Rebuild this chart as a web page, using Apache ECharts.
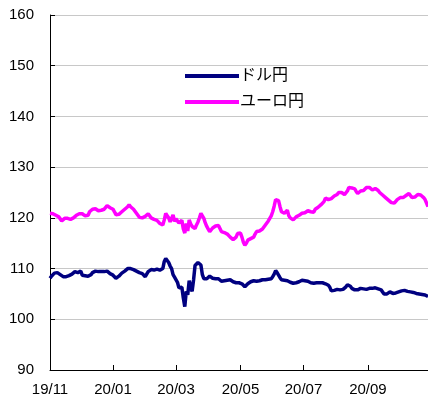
<!DOCTYPE html>
<html>
<head>
<meta charset="utf-8">
<script src="https://cdn.jsdelivr.net/npm/echarts@6/dist/echarts.min.js"></script>
<style>
  html, body { margin: 0; padding: 0; background: #fff; }
  #main { width: 428px; height: 401px; }
</style>
</head>
<body>
<div id="main"></div>
<script>
// 期間: 2019/11/01 〜 2020/10/28 の平日
var startDate = '2019-11-01';
var endDate = '2020-10-28';
var tickLabels = ['19/11', '20/01', '20/03', '20/05', '20/07', '20/09'];
var seriesNames = ['ドル円', 'ユーロ円'];

// ドル円 (月ごと)
var usdJpy = [].concat(
  [108.1, 108.5, 108.8, 109.1, 109.0, 109.2, 109.0, 108.8, 108.5, 108.4, 108.6, 108.4, 108.5, 108.6, 108.7, 108.9, 109.1, 109.4, 109.3, 109.2, 109.3],
  [109.5, 108.7, 108.6, 108.6, 108.5, 108.5, 108.6, 108.8, 109.2, 109.3, 109.5, 109.4, 109.4, 109.4, 109.4, 109.5, 109.4, 109.6, 109.5, 109.4, 109.0, 108.8],
  [108.7, 108.5, 108.1, 108.3, 108.5, 108.8, 109.1, 109.3, 109.5, 109.8, 110.0, 110.1, 110.0, 110.0, 109.8, 109.7, 109.5, 109.4, 109.2, 109.1, 109.0, 108.7, 108.4],
  [108.6, 109.4, 109.6, 109.8, 109.8, 109.7, 109.8, 109.9, 109.8, 109.7, 109.8, 110.0, 111.4, 112.0, 111.6, 111.2, 110.5, 110.0, 108.8, 108.3],
  [108.0, 107.3, 106.2, 105.9, 106.3, 104.2, 102.5, 105.5, 104.8, 107.6, 106.5, 105.5, 107.8, 110.6, 110.8, 111.2, 111.1, 110.7, 108.8, 108.0, 108.1, 108.0],
  [108.2, 108.5, 108.4, 108.1, 107.8, 108.0, 108.1, 108.0, 107.7, 107.5, 107.4, 107.6, 107.8, 107.7, 107.6, 107.8, 107.5, 107.4, 107.3, 107.2, 107.0, 107.2],
  [107.3, 107.0, 106.7, 106.4, 106.6, 107.0, 107.3, 107.4, 107.3, 107.6, 107.7, 107.5, 107.4, 107.6, 107.7, 107.8, 107.7, 107.8, 107.7, 107.9, 108.1],
  [108.0, 108.4, 108.9, 109.6, 109.2, 108.7, 108.2, 107.8, 107.6, 107.7, 107.8, 107.6, 107.4, 107.3, 107.2, 107.1, 107.0, 107.2, 107.3, 107.4, 107.5, 107.7],
  [107.8, 107.6, 107.4, 107.5, 107.3, 107.2, 107.2, 107.1, 107.1, 107.2, 107.3, 107.2, 107.1, 107.2, 107.1, 107.0, 106.9, 106.7, 106.3, 105.6, 105.4, 105.7, 105.8],
  [105.9, 105.7, 105.8, 105.7, 105.9, 106.1, 106.4, 106.8, 106.7, 106.5, 106.1, 106.0, 105.8, 105.9, 105.8, 106.0, 106.1, 106.2, 106.0, 106.2, 105.9],
  [106.0, 106.1, 106.2, 106.1, 106.1, 106.2, 106.1, 106.0, 105.9, 105.8, 105.5, 105.0, 104.8, 105.0, 105.2, 105.4, 105.3, 105.1, 105.1, 105.2, 105.4, 105.4],
  [105.5, 105.6, 105.8, 105.7, 105.6, 105.5, 105.4, 105.4, 105.3, 105.3, 105.2, 105.1, 105.1, 105.0, 105.1, 104.9, 104.8, 104.8, 104.6, 104.5]
);

// ユーロ円 (月ごと)
var eurJpy = [].concat(
  [120.9, 121.0, 120.8, 120.9, 120.5, 120.3, 120.2, 119.8, 119.4, 119.6, 119.9, 120.0, 119.9, 119.8, 119.7, 119.8, 120.0, 120.2, 120.5, 120.6, 120.8],
  [121.0, 120.8, 120.6, 120.4, 120.2, 120.5, 121.2, 121.4, 121.7, 121.9, 121.8, 121.6, 121.4, 121.3, 121.5, 121.4, 121.7, 122.0, 122.4, 122.3, 122.0, 121.8],
  [121.7, 121.2, 120.6, 120.8, 120.7, 120.9, 121.2, 121.5, 121.7, 122.0, 122.2, 122.6, 122.2, 121.9, 121.7, 121.3, 120.9, 120.5, 120.1, 120.2, 120.0, 120.2, 120.3],
  [120.6, 120.8, 120.4, 120.0, 119.9, 119.7, 119.8, 119.5, 119.2, 118.9, 119.0, 118.6, 119.6, 120.9, 120.4, 120.0, 119.2, 119.9, 120.6, 119.3],
  [119.8, 120.0, 119.0, 119.3, 119.5, 117.8, 117.0, 118.9, 117.4, 119.6, 118.8, 118.3, 118.1, 117.9, 118.6, 119.2, 120.0, 120.9, 120.6, 119.9, 119.0, 118.3],
  [117.8, 117.3, 117.4, 118.0, 118.3, 118.4, 118.6, 118.5, 117.9, 117.3, 117.6, 117.1, 117.0, 116.8, 116.6, 116.2, 116.0, 115.7, 115.8, 116.2, 116.9, 116.6],
  [117.0, 116.2, 115.2, 114.6, 115.0, 115.6, 115.7, 115.9, 116.0, 116.2, 116.8, 117.3, 117.6, 117.4, 117.3, 117.8, 118.1, 118.6, 118.9, 119.4, 119.9],
  [120.4, 121.2, 122.3, 123.6, 123.7, 123.4, 122.2, 121.2, 121.4, 120.9, 121.2, 121.5, 120.4, 120.0, 120.2, 119.6, 119.8, 120.2, 120.3, 120.5, 120.6, 120.9],
  [120.8, 121.0, 121.2, 121.4, 121.5, 121.2, 120.9, 121.1, 121.7, 121.9, 122.1, 122.3, 122.6, 122.9, 123.2, 123.9, 123.7, 123.6, 123.5, 123.8, 124.0, 124.3, 124.4],
  [124.6, 125.0, 125.2, 125.0, 124.8, 124.6, 124.5, 125.3, 126.0, 126.2, 125.9, 126.1, 125.7, 125.2, 124.8, 125.0, 125.3, 125.5, 125.4, 125.7, 126.0],
  [126.2, 126.0, 125.7, 125.5, 125.6, 125.8, 125.7, 125.4, 125.0, 124.7, 124.5, 124.3, 124.0, 123.7, 123.5, 123.3, 123.0, 122.9, 122.9, 123.2, 123.6, 123.9],
  [124.0, 123.8, 124.0, 124.2, 124.4, 124.6, 124.8, 124.5, 124.0, 123.9, 124.1, 124.3, 124.6, 124.8, 124.5, 124.4, 124.0, 123.6, 123.3, 122.2]
);

// 平日の日付リスト
var dates = [];
var d = new Date(startDate + 'T00:00:00Z');
var last = new Date(endDate + 'T00:00:00Z');
while (d <= last) {
  var wd = d.getUTCDay();
  if (wd !== 0 && wd !== 6) {
    dates.push(d.toISOString().slice(0, 10));
  }
  d.setUTCDate(d.getUTCDate() + 1);
}

// 奇数月の最初の営業日に目盛り
function isTick(idx) {
  var cur = dates[idx];
  var m = parseInt(cur.slice(5, 7), 10);
  if (m % 2 === 0) return false;
  if (idx === 0) return true;
  return dates[idx - 1].slice(5, 7) !== cur.slice(5, 7);
}
var tickIndex = {};
var k = 0;
for (var i = 0; i < dates.length; i++) {
  if (isTick(i)) { tickIndex[i] = tickLabels[k]; k++; }
}

var font = "'Liberation Sans', Arial, 'Noto Sans CJK JP', sans-serif";
var myChart = echarts.init(document.getElementById('main'));

var option = {
  animation: false,
  backgroundColor: '#fff',
  textStyle: { fontFamily: font },
  grid: { left: 50, right: 0, top: 15, bottom: 31 },
  legend: {
    orient: 'vertical',
    left: 180,
    top: 63,
    itemWidth: 54,
    itemHeight: 4,
    itemGap: 10,
    icon: 'rect',
    textStyle: { fontSize: 16, lineHeight: 16, color: '#000', fontFamily: font, padding: [0, 0, 0, -4] },
    data: seriesNames
  },
  xAxis: {
    type: 'category',
    data: dates,
    boundaryGap: false,
    axisLine: { lineStyle: { color: '#000', width: 1 } },
    axisTick: {
      inside: true,
      length: 5,
      lineStyle: { color: '#000' },
      interval: function (idx) { return tickIndex[idx] !== undefined; }
    },
    axisLabel: {
      interval: function (idx) { return tickIndex[idx] !== undefined; },
      formatter: function (val, idx) { return tickIndex[idx] || ''; },
      color: '#000',
      fontSize: 15,
      margin: 12
    },
    splitLine: { show: false }
  },
  yAxis: {
    type: 'value',
    min: 90,
    max: 160,
    interval: 10,
    axisLine: { show: true, lineStyle: { color: '#000', width: 1 } },
    axisTick: { show: true, inside: true, length: 5, lineStyle: { color: '#000' } },
    axisLabel: { color: '#000', fontSize: 15, margin: 16 },
    splitLine: { show: true, lineStyle: { color: '#c8c8c8', width: 1 } }
  },
  series: [
    {
      name: seriesNames[0],
      type: 'line',
      data: usdJpy,
      showSymbol: false,
      color: '#000080',
      lineStyle: { width: 3.5, color: '#000080' }
    },
    {
      name: seriesNames[1],
      type: 'line',
      data: eurJpy,
      showSymbol: false,
      color: '#ff00ff',
      lineStyle: { width: 3.5, color: '#ff00ff' }
    }
  ]
};

myChart.setOption(option);
</script>
</body>
</html>
